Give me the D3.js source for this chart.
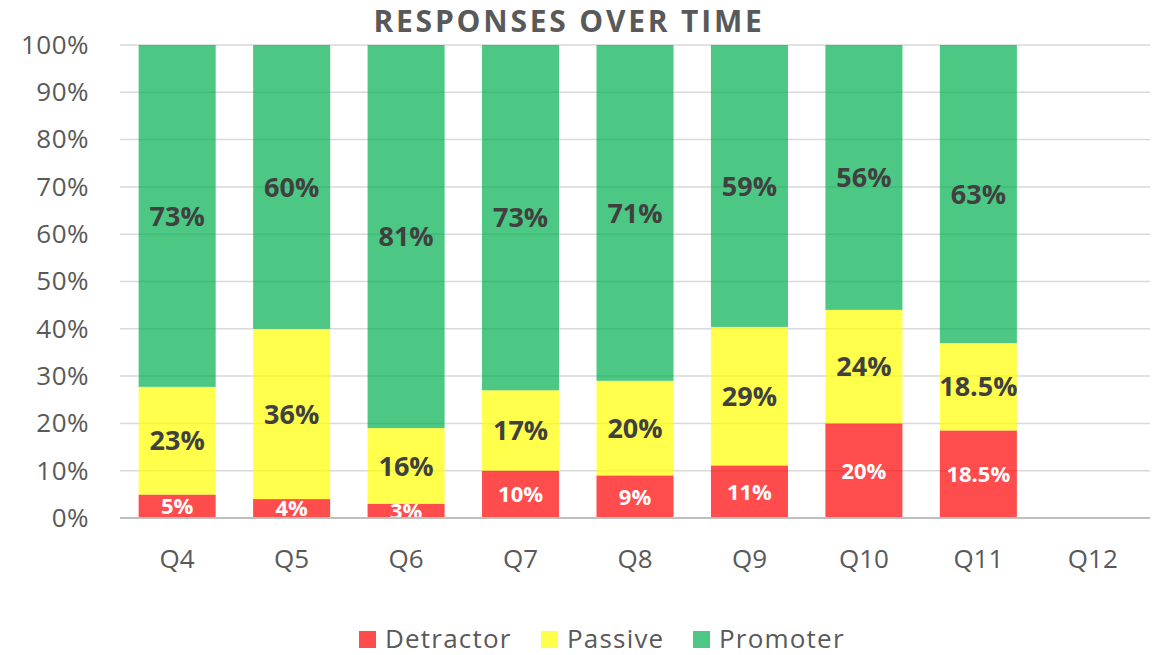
<!DOCTYPE html>
<html><head><meta charset="utf-8">
<script src="https://cdn.jsdelivr.net/npm/d3@7"></script>
<style>body{margin:0;background:#fff;} text{font-family:"Open Sans",sans-serif;}</style>
</head><body><svg id="c" width="1158" height="655"></svg>
<script>
const categories = ["Q4","Q5","Q6","Q7","Q8","Q9","Q10","Q11","Q12"];
const detractor = [5,4,3,10,9,11,20,18.5,null];
const passive = [23,36,16,17,20,29,24,18.5,null];
const promoter = [73,60,81,73,71,59,56,63,null];
const seriesNames = ["Detractor","Passive","Promoter"];
const seriesColors = ["#ff0000","#ffff00","#00b050"];
const labelColors = ["#ffffff","#404040","#404040"];
const yTicks = [0,10,20,30,40,50,60,70,80,90,100];
const title = "RESPONSES OVER TIME";

const svg = d3.select("#c");
const m = {left:120, right:8, top:45, bottom:137};
const W = 1158, H = 655;
const x = d3.scaleBand().domain(categories).range([m.left, W - m.right]).paddingInner(0.327).paddingOuter(0.163);
const y = d3.scaleLinear().domain([0,100]).range([H - m.bottom, m.top]);

svg.append("text").attr("x", 569).attr("y", 32).attr("text-anchor","middle")
  .attr("font-size", 30).attr("letter-spacing", 2.8).attr("font-weight","bold").attr("fill","#595959").text(title);

// gridlines
svg.append("g").selectAll("line").data(yTicks.slice(1)).join("line")
  .attr("x1", m.left).attr("x2", W - m.right)
  .attr("y1", d => y(d)).attr("y2", d => y(d))
  .attr("stroke","#d9d9d9").attr("stroke-width",1.5);

// y axis labels
const yAxis = d3.axisLeft(y).tickValues(yTicks).tickFormat(d => d + "%").tickSize(0).tickPadding(0);
const ya = svg.append("g").attr("transform", `translate(89,0)`).call(yAxis);
ya.select(".domain").remove();
ya.selectAll("text").attr("font-size", 26).attr("letter-spacing", 0.5).attr("fill","#595959").attr("font-family","Open Sans");

// stack data
const rows = categories.map((c,i) => ({cat:c, Detractor:detractor[i], Passive:passive[i], Promoter:promoter[i]}));
const stacked = d3.stack().keys(seriesNames).offset(d3.stackOffsetExpand)(rows.map(r => ({...r, Detractor:r.Detractor||0, Passive:r.Passive||0, Promoter:r.Promoter||0})));

svg.append("defs").append("clipPath").attr("id","plot").append("rect")
  .attr("x", m.left).attr("y", m.top - 5).attr("width", W - m.left - m.right).attr("height", H - m.bottom - m.top + 5);

const plot = svg.append("g").attr("clip-path","url(#plot)");
stacked.forEach((s, si) => {
  const g = plot.append("g");
  s.forEach((d, i) => {
    const raw = rows[i][seriesNames[si]];
    if (raw == null || isNaN(d[1])) return;
    g.append("rect").attr("x", x(rows[i].cat)).attr("width", x.bandwidth())
      .attr("y", y(d[1]*100)).attr("height", y(d[0]*100) - y(d[1]*100))
      .attr("fill", seriesColors[si]).attr("fill-opacity", 0.7);
  });
});
stacked.forEach((s, si) => {
  s.forEach((d, i) => {
    const raw = rows[i][seriesNames[si]];
    if (raw == null || isNaN(d[1])) return;
    const cy = (y(d[1]*100) + y(d[0]*100)) / 2;
    plot.append("text").attr("x", x(rows[i].cat) + x.bandwidth()/2).attr("y", cy)
      .attr("dy","0.36em").attr("text-anchor","middle")
      .attr("font-size", si === 0 ? 22 : 27).attr("font-weight","bold")
      .attr("fill", labelColors[si]).text(raw + "%");
  });
});

// x axis
svg.append("line").attr("x1", m.left).attr("x2", W - m.right).attr("y1", y(0)).attr("y2", y(0))
  .attr("stroke","#bfbfbf").attr("stroke-width",2);
const xAxis = d3.axisBottom(x).tickSize(0).tickPadding(0);
const xa = svg.append("g").attr("transform", `translate(0,${y(0) + 41})`).call(xAxis);
xa.select(".domain").remove();
xa.selectAll("text").attr("font-size", 26).attr("fill","#595959").attr("font-family","Open Sans").attr("dy","0.36em");

// legend
const legX = [359, 541, 693];
const leg = svg.append("g");
seriesNames.forEach((n, i) => {
  leg.append("rect").attr("x", legX[i]).attr("y", 631).attr("width", 17).attr("height", 17)
    .attr("fill", seriesColors[i]).attr("fill-opacity", 0.7);
  leg.append("text").attr("x", legX[i] + 26).attr("y", 648)
    .attr("font-size", 26).attr("letter-spacing", 1.2).attr("fill","#595959").text(n);
});
</script></body></html>
